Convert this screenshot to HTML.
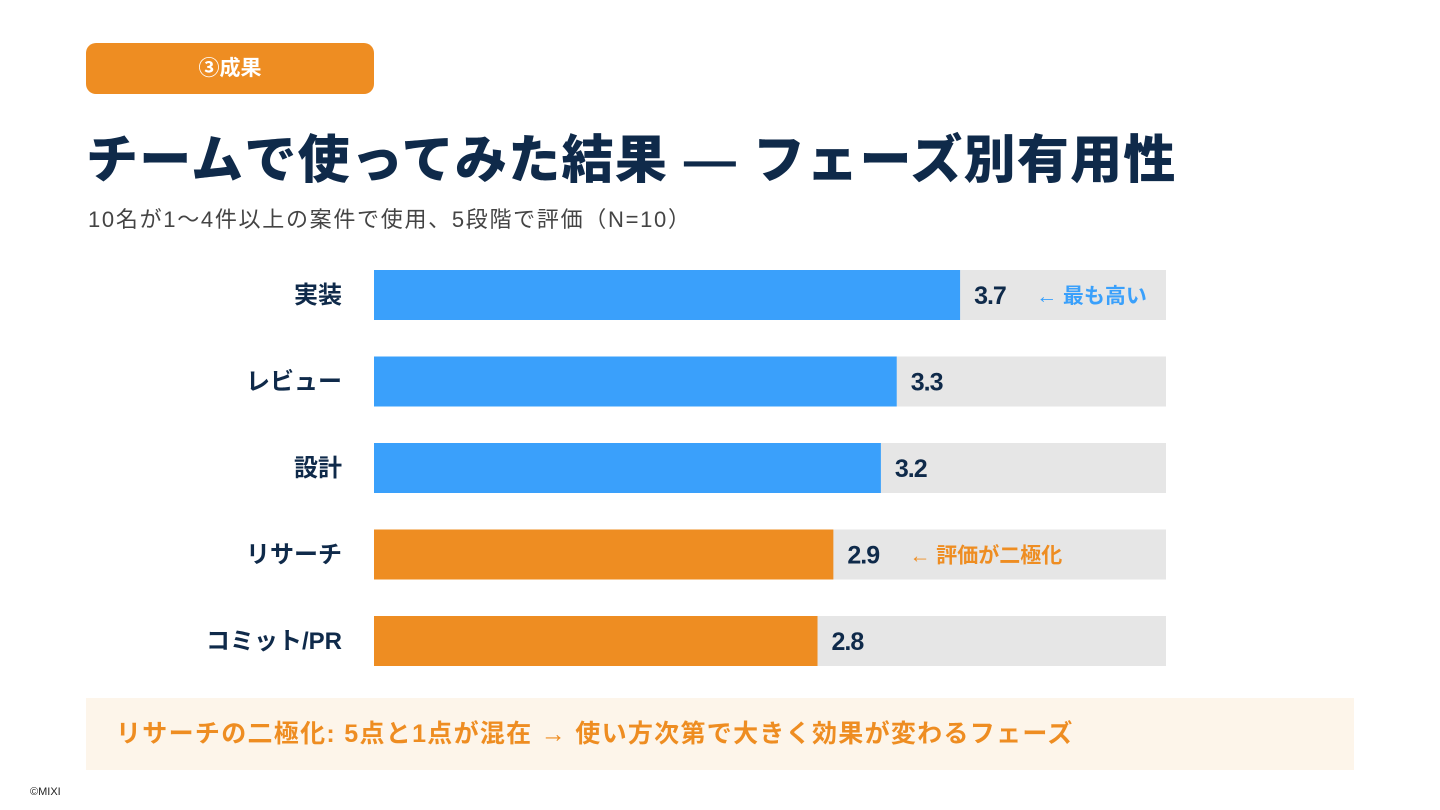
<!DOCTYPE html>
<html lang="ja"><head><meta charset="utf-8">
<style>
html,body{margin:0;padding:0;background:#fff;}
body{width:1440px;height:810px;position:relative;overflow:hidden;font-family:"Liberation Sans","Noto Sans CJK JP",sans-serif;}
.abs{position:absolute;}
#tag{left:86px;top:43px;width:288px;height:51px;background:#ee8d22;border-radius:10px;color:#fff;font-weight:bold;font-size:21px;line-height:51px;text-align:center;}
#title{left:86px;top:128px;font-size:52px;font-weight:900;color:#0f2a4a;white-space:nowrap;letter-spacing:1.3px;line-height:66px;}
#subtitle{left:88px;top:205px;font-size:22px;color:#444;white-space:nowrap;line-height:30px;letter-spacing:1.7px;}
#chart{left:0;top:0;}
#note{left:86px;top:698px;width:1268px;height:72px;background:#fdf5ea;}
#note span{position:absolute;left:30px;top:0;line-height:72px;font-size:25px;font-weight:bold;color:#ee8d22;white-space:nowrap;letter-spacing:1.3px;}
#copy{left:30px;top:786px;font-size:11px;color:#222;}
</style></head>
<body>
<div id="tag" class="abs">③成果</div>
<div id="title" class="abs">チームで使ってみた結果 — フェーズ別有用性</div>
<div id="subtitle" class="abs">10名が1〜4件以上の案件で使用、5段階で評価（N=10）</div>
<svg id="chart" class="abs" width="1440" height="700"></svg>
<div id="note" class="abs"><span>リサーチの二極化: 5点と1点が混在 → 使い方次第で大きく効果が変わるフェーズ</span></div>
<div id="copy" class="abs">©MIXI</div>
<script>
const categories = ["実装","レビュー","設計","リサーチ","コミット/PR"];
const values = [3.7, 3.3, 3.2, 2.9, 2.8];
const barColors = ["#3aa0fb","#3aa0fb","#3aa0fb","#ee8d22","#ee8d22"];
const notes = ["← 最も高い","","","← 評価が二極化",""];
const noteColors = ["#3aa0fb","","","#ee8d22",""];
const maxValue = 5;

const NS="http://www.w3.org/2000/svg";
const svg=document.getElementById('chart');
const x0=374, x1=1166, top0=270, step=86.5, bh=50;
function xScale(v){return x0+(v/maxValue)*(x1-x0);}
function yScale(i){return top0+i*step;}
function mk(tag,attrs,text){const e=document.createElementNS(NS,tag);for(const k in attrs)e.setAttribute(k,attrs[k]);if(text!==undefined)e.textContent=text;svg.appendChild(e);return e;}
categories.forEach((c,i)=>{
  const y=yScale(i);
  const t=mk('rect',{x:x0,y:y,width:x1-x0,height:bh,fill:'#e6e6e6'});
  
  
  const b=mk('rect',{x:x0,y:y,width:xScale(values[i])-x0,height:bh,fill:barColors[i]});
  
  
  const l=mk('text',{x:342,y:y+bh/2+8,'text-anchor':'end','font-size':24,'font-weight':'bold',fill:'#0f2a4a'},c);
  
  
  const vx=xScale(values[i])+14;
  const v=mk('text',{x:vx,y:y+bh/2+9,'font-size':25,'font-weight':'bold',fill:'#0f2a4a','letter-spacing':'-1'},values[i].toFixed(1));
  
  
  if(notes[i]){
    const n=mk('text',{x:vx+62,y:y+bh/2+8,'font-size':21,'font-weight':'bold',fill:noteColors[i]},notes[i]);
    
    
  }
});
</script>
</body></html>
